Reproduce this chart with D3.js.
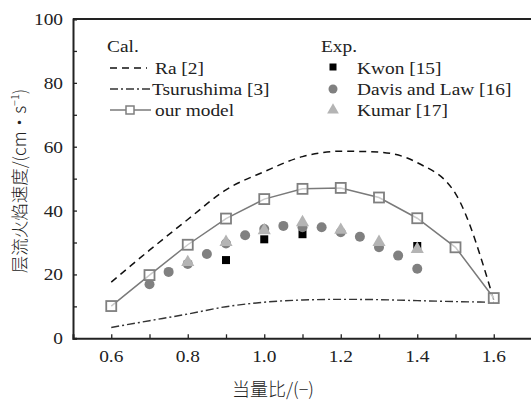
<!DOCTYPE html>
<html><head><meta charset="utf-8">
<script src="https://cdn.jsdelivr.net/npm/d3@7"></script>
<style>body{margin:0;background:#fff}svg{display:block}
.sf{font-family:"Liberation Serif","DejaVu Serif",serif}
.cj{font-family:"Noto Sans CJK SC",sans-serif}</style>
</head><body><svg id="c" width="531" height="402"></svg>
<script>
// Data
const phiCal = [0.6,0.7,0.8,0.9,1.0,1.1,1.2,1.3,1.4,1.5,1.6];
const raVals = [17.6,27.6,37.2,46.5,52.2,56.9,58.6,58.3,55.0,45.3,12.0];
const tsuVals = [3.4,5.5,7.6,9.9,11.3,12.0,12.2,12.1,11.8,11.5,11.3];
const modelVals = [10.1,19.8,29.3,37.5,43.6,46.8,47.1,44.1,37.6,28.5,12.6];
const kwonPhi = [0.9,1.0,1.1,1.4];
const kwonVals = [24.5,31.0,32.6,28.9];
const davisPhi = [0.7,0.75,0.8,0.85,0.9,0.95,1.0,1.05,1.1,1.15,1.2,1.25,1.3,1.35,1.4];
const davisVals = [16.9,20.8,23.3,26.4,29.7,32.3,34.2,35.2,34.8,34.8,33.2,31.8,28.5,25.9,21.8];
const kumarPhi = [0.8,0.9,1.0,1.1,1.2,1.3,1.4];
const kumarVals = [23.8,30.1,33.8,36.3,33.9,30.1,27.9];
const xTicks = [0.6,0.8,1.0,1.2,1.4,1.6];
const xMinor = [0.7,0.9,1.1,1.3,1.5];
const yTicks = [0,20,40,60,80,100];
const yMinor = [10,30,50,70,90];
const xLabel = "当量比/(−)";
const yLabelMain = "层流火焰速度/(cm·s";
const calTitle = "Cal.", expTitle = "Exp.";
const calNames = ["Ra [2]","Tsurushima [3]","our model"];
const expNames = ["Kwon [15]","Davis and Law [16]","Kumar [17]"];

const svg = d3.select("#c");
const x = d3.scaleLinear().domain([0.5,1.7]).range([73,532]);
const y = d3.scaleLinear().domain([0,100]).range([338.3,19]);
const fs = 17;
const sx = 1.14;
const axisCol = "#222", txtCol = "#222";

function stext(g, tx, ty, str, anchor, size){
  return g.append("text").attr("class","sf").attr("transform",`translate(${tx},${ty}) scale(${sx},1)`)
    .attr("text-anchor",anchor||"start")
    .style("font-size",(size||fs)+"px").attr("fill",txtCol).text(str);
}

// axes
const xAxis = d3.axisBottom(x).tickValues(xTicks.concat(xMinor)).tickSize(-4).tickFormat("");
const gx = svg.append("g").attr("transform",`translate(0,${y(0)})`).call(xAxis);
gx.select(".domain").attr("stroke",axisCol).attr("stroke-width",2);
gx.selectAll(".tick line").attr("stroke",axisCol).attr("stroke-width",1.3);
const yAxis = d3.axisLeft(y).tickValues(yTicks.concat(yMinor)).tickSize(-4).tickFormat("");
const gy = svg.append("g").attr("transform",`translate(${x(0.5)},0)`).call(yAxis);
gy.select(".domain").attr("stroke",axisCol).attr("stroke-width",2);
gy.selectAll(".tick line").attr("stroke",axisCol).attr("stroke-width",1.3);
// top border
svg.append("line").attr("x1",x(0.5)).attr("x2",x(1.7)).attr("y1",y(100)).attr("y2",y(100))
  .attr("stroke",axisCol).attr("stroke-width",2);

// tick labels
const tl = svg.append("g");
xTicks.forEach(v=>stext(tl, x(v), 362, d3.format(".1f")(v), "middle"));
yTicks.forEach(v=>stext(tl, 63, y(v)+6, String(v), "end"));

// axis titles
svg.append("text").attr("class","cj").attr("x",273).attr("y",396).attr("text-anchor","middle")
  .style("font-size","18px").style("font-weight",300)
  .attr("fill",txtCol).text(xLabel);
const yl = svg.append("text").attr("class","cj").attr("transform","translate(26,181) rotate(-90)").attr("text-anchor","middle")
  .style("font-size","17.5px").style("font-weight",300).attr("fill",txtCol);
yl.append("tspan").text(yLabelMain);
yl.append("tspan").style("font-size","11px").attr("dy",-7).text("−1");
yl.append("tspan").attr("dy",7).text(")");

// lines
const line = d3.line().x(d=>x(d[0])).y(d=>y(d[1])).curve(d3.curveMonotoneX);
const lineLin = d3.line().x(d=>x(d[0])).y(d=>y(d[1]));
svg.append("path").attr("d",line(d3.zip(phiCal,raVals))).attr("fill","none")
  .attr("stroke","#111").attr("stroke-width",1.5).attr("stroke-dasharray","7,5");
svg.append("path").attr("d",line(d3.zip(phiCal,tsuVals))).attr("fill","none")
  .attr("stroke","#333").attr("stroke-width",1.4).attr("stroke-dasharray","8,3,2,3");
svg.append("path").attr("d",lineLin(d3.zip(phiCal,modelVals))).attr("fill","none")
  .attr("stroke","#7a7a7a").attr("stroke-width",1.5);

// experimental markers
const sq = d3.symbol().type(d3.symbolSquare).size(64);
const tri = d3.symbol().type(d3.symbolTriangle).size(75);
svg.append("g").selectAll("path").data(d3.zip(kwonPhi,kwonVals)).join("path")
  .attr("d",sq).attr("transform",d=>`translate(${x(d[0])},${y(d[1])})`).attr("fill","#000");
svg.append("g").selectAll("circle").data(d3.zip(davisPhi,davisVals)).join("circle")
  .attr("cx",d=>x(d[0])).attr("cy",d=>y(d[1])).attr("r",5).attr("fill","#808080");
svg.append("g").selectAll("path").data(d3.zip(kumarPhi,kumarVals)).join("path")
  .attr("d",tri).attr("transform",d=>`translate(${x(d[0])},${y(d[1])})`).attr("fill","#b4b4b4");

// model squares
svg.append("g").selectAll("rect").data(d3.zip(phiCal,modelVals)).join("rect")
  .attr("x",d=>x(d[0])-5).attr("y",d=>y(d[1])-5).attr("width",10).attr("height",10)
  .attr("fill","#fff").attr("fill-opacity",0.6).attr("stroke","#7f7f7f").attr("stroke-width",1.8);

// legend
const lg = svg.append("g");
stext(lg,107,52,calTitle);
const ly = [68,89,110];
lg.append("line").attr("x1",110).attr("x2",147).attr("y1",ly[0]).attr("y2",ly[0])
  .attr("stroke","#111").attr("stroke-width",1.5).attr("stroke-dasharray","7,5");
lg.append("line").attr("x1",110).attr("x2",152).attr("y1",ly[1]).attr("y2",ly[1])
  .attr("stroke","#333").attr("stroke-width",1.4).attr("stroke-dasharray","8,3,2,3");
lg.append("line").attr("x1",110).attr("x2",151).attr("y1",ly[2]).attr("y2",ly[2])
  .attr("stroke","#7a7a7a").attr("stroke-width",1.5);
lg.append("rect").attr("x",126).attr("y",ly[2]-4).attr("width",8).attr("height",8)
  .attr("fill","#fff").attr("stroke","#7f7f7f").attr("stroke-width",1.5);
stext(lg,155,ly[0]+6,calNames[0]);
stext(lg,152,ly[1]+6,calNames[1]);
stext(lg,155,ly[2]+6,calNames[2]);
stext(lg,321,52,expTitle);
lg.append("path").attr("d",d3.symbol().type(d3.symbolSquare).size(49))
  .attr("transform",`translate(333,${ly[0]-1})`).attr("fill","#000");
lg.append("circle").attr("cx",333).attr("cy",ly[1]).attr("r",4.5).attr("fill","#808080");
lg.append("path").attr("d",d3.symbol().type(d3.symbolTriangle).size(60))
  .attr("transform",`translate(333,${ly[2]})`).attr("fill","#b4b4b4");
expNames.forEach((n,i)=>stext(lg,357,ly[i]+6,n));
</script></body></html>
